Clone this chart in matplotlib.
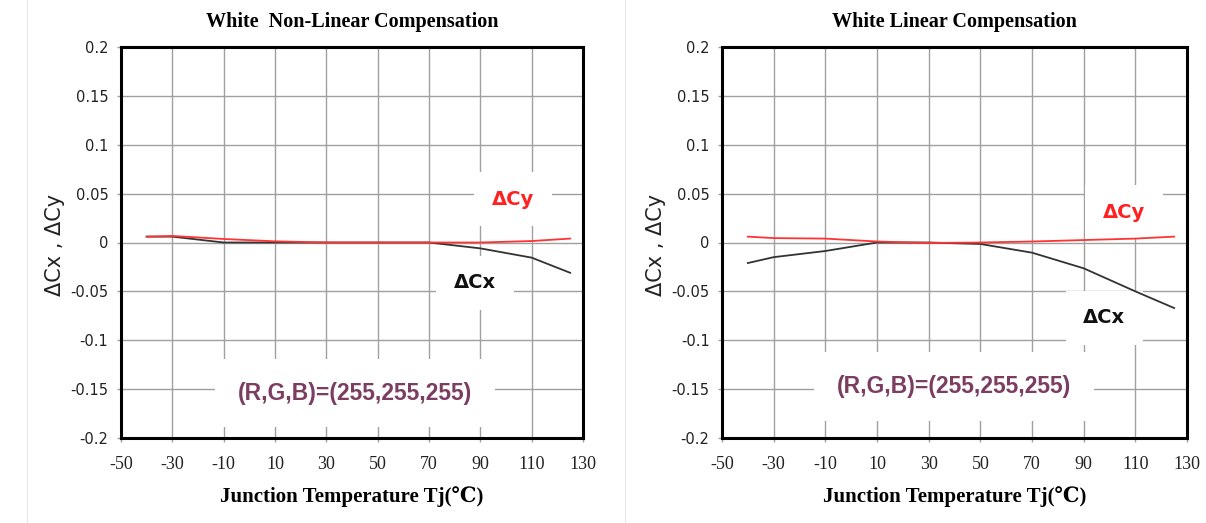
import matplotlib
matplotlib.use("Agg")
import matplotlib.pyplot as plt
from matplotlib.lines import Line2D

# ---- data ----
temps = [-40, -30, -10, 10, 30, 50, 70, 90, 110, 125]
nl_dcx = [0.006, 0.006, 0.0, 0.0, 0.0, 0.0, 0.0, -0.006, -0.0155, -0.031]
nl_dcy = [0.006, 0.0067, 0.0036, 0.0012, 0.0, 0.0, 0.0, 0.0, 0.0015, 0.004]
lin_dcx = [-0.021, -0.015, -0.0087, 0.0, 0.0, -0.0015, -0.0104, -0.0264, -0.050, -0.067]
lin_dcy = [0.006, 0.0045, 0.004, 0.001, -0.0005, 0.0, 0.001, 0.0025, 0.004, 0.006]

titles = ["White  Non-Linear Compensation", "White Linear Compensation"]
xticks = [-50, -30, -10, 10, 30, 50, 70, 90, 110, 130]
yticks = [-0.2, -0.15, -0.1, -0.05, 0, 0.05, 0.1, 0.15, 0.2]
ytick_labels = ["-0.2", "-0.15", "-0.1", "-0.05", "0", "0.05", "0.1", "0.15", "0.2"]
rgb_label = "(R,G,B)=(255,255,255)"

W, H = 1206, 523
fig = plt.figure(figsize=(W / 100, H / 100), dpi=100)
fig.patch.set_facecolor("white")

# panel separators
for xp in (27, 625):
    fig.add_artist(Line2D([xp / W, xp / W], [0, 1], color="#e6e6e6", lw=0.8))

axes_px = [(121, 583), (722, 1187)]
top, bottom = 47, 438
panels = [(nl_dcx, nl_dcy), (lin_dcx, lin_dcy)]
# label positions (data coords): dCy, dCx, rgb
label_pos = [((102.7, 0.0445), (87.9, -0.0414), (41.2, -0.154)),
             ((105.6, 0.031), (97.9, -0.077), (39.8, -0.147))]

for i, ((x0, x1), (dcx, dcy)) in enumerate(zip(axes_px, panels)):
    ax = fig.add_axes([x0 / W, 1 - bottom / H, (x1 - x0) / W, (bottom - top) / H])
    ax.set_xlim(-50, 130)
    ax.set_ylim(-0.2, 0.2)
    ax.set_xticks(xticks)
    ax.set_yticks(yticks)
    ax.set_yticklabels(ytick_labels, fontfamily="DejaVu Sans", fontsize=10.5, color="#222222")
    ax.set_xticklabels([str(t) for t in xticks], fontfamily="Liberation Serif", fontsize=13, color="#222222")
    ax.grid(True, color="#a0a0a0", lw=1.0)
    ax.set_axisbelow(True)
    ax.tick_params(length=3, width=1, color="#a0a0a0")
    ax.tick_params(axis="x", pad=10)
    ax.tick_params(axis="y", pad=6)
    for s in ax.spines.values():
        s.set_linewidth(2.2)
        s.set_color("black")
    ax.plot(temps, dcx, color="#333333", lw=1.3, zorder=3)
    ax.plot(temps, dcy, color="#ff3333", lw=1.3, zorder=4)

    (cyx, cyy), (cxx, cxy), (rx, ry) = label_pos[i]
    ax.text(cyx, cyy, "ΔCy", color="#ff2020", fontsize=14, fontweight="bold",
            family="DejaVu Sans", ha="center", va="center", zorder=2,
            bbox=dict(boxstyle="square,pad=0.9", facecolor="white", edgecolor="none"))
    ax.text(cxx, cxy, "ΔCx", color="#111111", fontsize=14, fontweight="bold",
            family="DejaVu Sans", ha="center", va="center", zorder=2,
            bbox=dict(boxstyle="square,pad=0.9", facecolor="white", edgecolor="none"))
    ax.text(rx, ry, rgb_label, color="#7b3d62", fontsize=16.5, fontweight="bold",
            family="Liberation Sans", ha="center", va="center", zorder=2,
            bbox=dict(boxstyle="square,pad=1.0", facecolor="white", edgecolor="none"))

    cx = (x0 + x1) / 2
    fig.text(cx / W, 1 - 22 / H, titles[i], ha="center", va="center",
             fontsize=14.5, fontweight="bold", family="Liberation Serif")
    fig.text(cx / W, 1 - 497 / H, "Junction Temperature Tj(℃)", ha="center", va="center",
             fontsize=15, fontweight="bold", family=["Liberation Serif", "DejaVu Serif"])
    fig.text((x0 - 66) / W, 1 - 245 / H, "ΔCx , ΔCy", rotation=90, ha="center", va="center",
             fontsize=15, family="DejaVu Sans", color="#222222")

fig.savefig("out.png", dpi=100)
